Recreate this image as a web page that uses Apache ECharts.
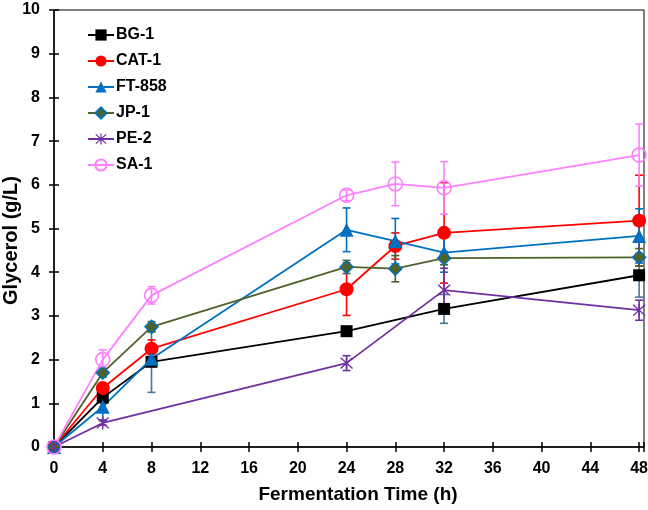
<!DOCTYPE html>
<html>
<head>
<meta charset="utf-8">
<script src="https://cdn.jsdelivr.net/npm/echarts@6/dist/echarts.min.js"></script>
<style>
  html, body { margin: 0; padding: 0; background: #fff; }
  #chart { width: 648px; height: 510px; }
</style>
</head>
<body>
<div id="chart"></div>
<script>
// glycerol (g/L) vs fermentation time (h), mean and error
var bgTime = [0, 4, 8, 24, 32, 48];
var bgVal  = [0, 1.13, 1.95, 2.65, 3.16, 3.93];
var bgErr  = [0, 0.1, 0.7, 0.1, 0.33, 0.5];

var catTime = [0, 4, 8, 24, 28, 32, 48];
var catVal  = [0, 1.35, 2.25, 3.61, 4.6, 4.9, 5.18];
var catErr  = [0, 0.1, 0.2, 0.6, 0.3, 1.15, 1.04];

var ftTime = [0, 4, 8, 24, 28, 32, 48];
var ftVal  = [0, 0.92, 2.02, 4.97, 4.71, 4.45, 4.83];
var ftErr  = [0, 0.3, 0.1, 0.5, 0.52, 0.45, 0.62];

var jpTime = [0, 4, 8, 24, 28, 32, 48];
var jpVal  = [0, 1.7, 2.75, 4.12, 4.08, 4.32, 4.34];
var jpErr  = [0, 0.1, 0.12, 0.15, 0.3, 0.15, 0.2];

var peTime = [0, 4, 24, 32, 48];
var peVal  = [0, 0.55, 1.92, 3.59, 3.13];
var peErr  = [0, 0.05, 0.17, 0.5, 0.23];

var saTime = [0, 4, 8, 24, 28, 32, 48];
var saVal  = [0, 2.0, 3.47, 5.76, 6.02, 5.93, 6.68];
var saErr  = [0, 0.22, 0.2, 0.12, 0.5, 0.6, 0.71];

var xTicks = [0, 4, 8, 12, 16, 20, 24, 28, 32, 36, 40, 44, 48];

var FONT = 'Liberation Sans';
var star = 'path://M9 0L11 0L11 20L9 20Z M1 2.4L2.4 1L19 17.6L17.6 19Z M17.6 1L19 2.4L2.4 19L1 17.6Z';

function pairs(t, v) {
  return t.map(function (x, i) { return [x, v[i]]; });
}
function bars(t, v, e) {
  var out = [];
  t.forEach(function (x, i) {
    if (e[i] > 0) out.push([x, v[i] - e[i], v[i] + e[i]]);
  });
  return out;
}

function errSeries(data, color) {
  return {
    type: 'custom',
    data: data,
    z: 1,
    silent: true,
    renderItem: function (params, api) {
      var lo = api.coord([api.value(0), api.value(1)]);
      var hi = api.coord([api.value(0), api.value(2)]);
      var w = 4;
      var st = { stroke: color, lineWidth: 1.6 };
      return {
        type: 'group',
        children: [
          { type: 'line', shape: { x1: lo[0], y1: lo[1], x2: hi[0], y2: hi[1] }, style: st },
          { type: 'line', shape: { x1: lo[0] - w, y1: lo[1], x2: lo[0] + w, y2: lo[1] }, style: st },
          { type: 'line', shape: { x1: hi[0] - w, y1: hi[1], x2: hi[0] + w, y2: hi[1] }, style: st }
        ]
      };
    }
  };
}

function lineSeries(name, data, color, symbol, size, item) {
  return {
    name: name,
    type: 'line',
    data: data,
    z: 3,
    symbol: symbol,
    symbolSize: size,
    showAllSymbol: true,
    lineStyle: { color: color, width: 1.8 },
    itemStyle: item || { color: color },
    emphasis: { disabled: true }
  };
}

var chart = echarts.init(document.getElementById('chart'));

var option = {
  animation: false,
  textStyle: { fontFamily: FONT },
  grid: {
    left: 54, right: 4, top: 10, bottom: 63,
    outerBoundsMode: 'none',
    containLabel: false,
    show: true, borderColor: '#000', borderWidth: 1
  },
  legend: {
    data: ['BG-1', 'CAT-1', 'FT-858', 'JP-1', 'PE-2', 'SA-1'],
    orient: 'vertical',
    left: 82, top: 22,
    itemWidth: 26, itemHeight: 14, itemGap: 10,
    textStyle: { fontFamily: FONT, fontWeight: 'bold', fontSize: 16, color: '#000', padding: [0, 0, 0, -3] }
  },
  xAxis: [{
    type: 'value',
    min: 0, max: 48.4, interval: 4,
    name: 'Fermentation Time (h)',
    nameLocation: 'middle', nameGap: 38,
    nameMoveOverlap: false,
    nameTextStyle: { fontFamily: FONT, fontWeight: 'bold', fontSize: 19, color: '#000', padding: [0, 0, 0, 18] },
    axisLine: { lineStyle: { color: '#000', width: 1.5 } },
    axisTick: { length: 5, lineStyle: { color: '#000', width: 1.5 } },
    axisLabel: {
      margin: 14, fontFamily: FONT, fontWeight: 'bold', fontSize: 16, color: '#000',
      formatter: function (v) { return xTicks.indexOf(v) >= 0 ? String(v) : ''; }
    },
    splitLine: { show: false }
  }, {
    type: 'value', position: 'bottom',
    min: 0, max: 48.4, interval: 4,
    axisLine: { show: false },
    axisTick: { inside: true, length: 5, lineStyle: { color: '#000', width: 1.5 } },
    axisLabel: { show: false },
    splitLine: { show: false }
  }],
  yAxis: [{
    type: 'value',
    min: 0, max: 10, interval: 1,
    name: 'Glycerol (g/L)',
    nameLocation: 'middle', nameGap: 33,
    nameMoveOverlap: false,
    nameTextStyle: { fontFamily: FONT, fontWeight: 'bold', fontSize: 20, color: '#000', padding: [0, 24, 0, 0] },
    axisLine: { show: true, lineStyle: { color: '#000', width: 1.5 } },
    axisTick: { show: true, length: 5, lineStyle: { color: '#000', width: 1.5 } },
    axisLabel: { margin: 14, fontFamily: FONT, fontWeight: 'bold', fontSize: 16, color: '#000' },
    splitLine: { show: false }
  }, {
    type: 'value', position: 'left',
    min: 0, max: 10, interval: 1,
    axisLine: { show: false },
    axisTick: { show: true, inside: true, length: 5, lineStyle: { color: '#000', width: 1.5 } },
    axisLabel: { show: false },
    splitLine: { show: false }
  }],
  series: [
    errSeries(bars(bgTime, bgVal, bgErr), '#4a7594'),
    errSeries(bars(catTime, catVal, catErr), '#ff0000'),
    errSeries(bars(ftTime, ftVal, ftErr), '#0070c0'),
    errSeries(bars(jpTime, jpVal, jpErr), '#4f6228'),
    errSeries(bars(peTime, peVal, peErr), '#7030a0'),
    errSeries(bars(saTime, saVal, saErr), '#ff80ff'),
    lineSeries('BG-1', pairs(bgTime, bgVal), '#000000', 'rect', 12),
    lineSeries('CAT-1', pairs(catTime, catVal), '#ff0000', 'circle', 14),
    lineSeries('FT-858', pairs(ftTime, ftVal), '#0070c0', 'triangle', 14),
    lineSeries('JP-1', pairs(jpTime, jpVal), '#4f6228', 'diamond', 13,
      { color: '#4f6228', borderColor: '#0070c0', borderWidth: 1.5 }),
    lineSeries('PE-2', pairs(peTime, peVal), '#7030a0', star, 13),
    lineSeries('SA-1', pairs(saTime, saVal), '#ff80ff', 'circle', 14,
      { color: 'rgba(255,255,255,0)', borderColor: '#ff80ff', borderWidth: 1.6 })
  ]
};

chart.setOption(option);
</script>
</body>
</html>
